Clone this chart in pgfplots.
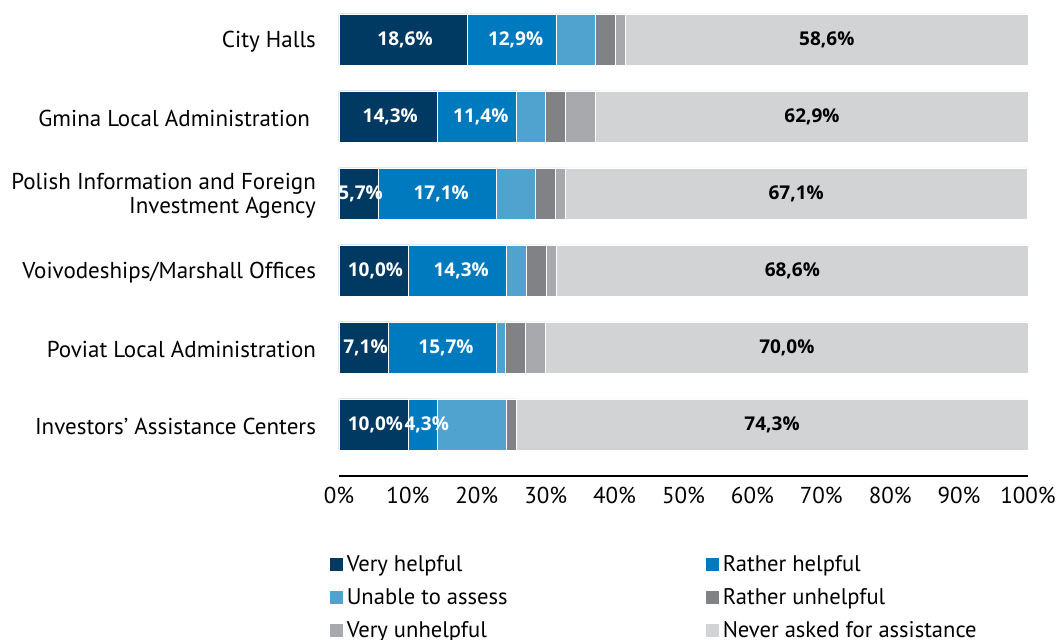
\documentclass[border=0pt]{standalone}
\usepackage{pgfplots}
\pgfplotsset{compat=1.18}
\usepackage{fontspec}
\setmainfont{PT Sans}
\newfontfamily\valfont{Open Sans}

\definecolor{vhelp}{RGB}{0,57,97}
\definecolor{rhelp}{RGB}{0,122,190}
\definecolor{unable}{RGB}{80,162,207}
\definecolor{runhelp}{RGB}{128,130,133}
\definecolor{vunhelp}{RGB}{167,169,172}
\definecolor{never}{RGB}{209,211,212}

\begin{document}
\begin{tikzpicture}
\path[use as bounding box] (0,0) rectangle (531pt,319.5pt);
\begin{axis}[
  at={(169.5pt,81.5pt)}, anchor=south west,
  scale only axis,
  width=344.5pt, height=237.5pt,
  xbar stacked,
  bar width=25.5pt,
  xmin=0, xmax=100,
  ymin=-0.669, ymax=5.5,
  clip=false,
  xtick={0,10,...,100},
  xticklabel={\pgfmathprintnumber[assume math mode=true]{\tick}\%},
  ytick={0,...,5},
  yticklabels={Investors' Assistance Centers, Poviat Local Administration,
    Voivodeships/Marshall Offices, {Polish Information and Foreign\\Investment Agency},
    Gmina Local Administration\hspace*{3pt}, City Halls},
  y tick label style={align=right, font=\fontsize{11.5}{12}\selectfont, xshift=-8pt, yshift=-1pt},
  x tick label style={font=\fontsize{11.5}{12}\selectfont, yshift=-2pt},
  major tick length=0pt,
  axis x line*=bottom,
  axis y line*=left,
  y axis line style={draw=none},
  x axis line style={line width=0.8pt, -},
  every axis plot/.append style={draw=white, line width=0.3pt},
  lbl/.style 2 args={
    nodes near coords={\pgfmathprintnumber[assume math mode=true,fixed,precision=1,zerofill,use comma]{\pgfplotspointmeta}\%},
    nodes near coords style={anchor=center, text=#1, xshift=#2,
      font=\valfont\bfseries\fontsize{9.5}{10}\selectfont},
  },
  legend columns=2,
  legend cell align=left,
  legend style={at={(axis description cs:-0.0227,-0.149)}, anchor=north west,
    draw=none, font=\fontsize{11.3}{12}\selectfont, row sep=3pt},
  legend image code/.code={\fill[#1, draw=none] (0pt,-3.25pt) rectangle (6.5pt,3.25pt);},
]
\addplot[fill=vhelp, lbl={white}{1pt}] coordinates {(10.0,0) (7.1,1) (10.0,2) (5.7,3) (14.3,4) (18.6,5)};
\addplot[fill=rhelp, lbl={white}{2pt}] coordinates {(4.3,0) (15.7,1) (14.3,2) (17.1,3) (11.4,4) (12.9,5)};
\addplot[fill=unable] coordinates {(10.0,0) (1.4,1) (2.9,2) (5.7,3) (4.3,4) (5.7,5)};
\addplot[fill=runhelp] coordinates {(1.4,0) (2.9,1) (2.9,2) (2.9,3) (2.9,4) (2.9,5)};
\addplot[fill=vunhelp] coordinates {(0,0) (2.9,1) (1.4,2) (1.4,3) (4.3,4) (1.4,5)};
\addplot[fill=never, lbl={black}{0pt}] coordinates {(74.3,0) (70.0,1) (68.6,2) (67.1,3) (62.9,4) (58.6,5)};
\addlegendentry{\makebox[177.5pt][l]{Very helpful}}
\addlegendentry{Rather helpful}
\addlegendentry{\makebox[177.5pt][l]{Unable to assess}}
\addlegendentry{Rather unhelpful}
\addlegendentry{\makebox[177.5pt][l]{Very unhelpful}}
\addlegendentry{Never asked for assistance}
\end{axis}
\end{tikzpicture}
\end{document}
